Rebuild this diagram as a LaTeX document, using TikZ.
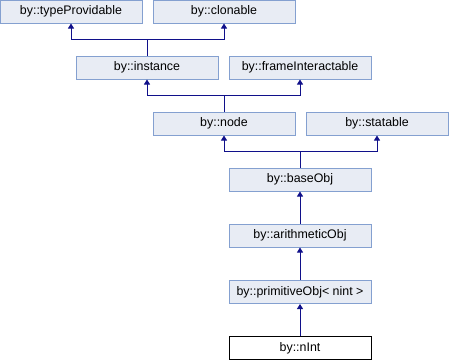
\documentclass[tikz,border=0pt]{standalone}
\usepackage{fontspec}
\setmainfont{Liberation Sans}
\usepackage{xcolor}
\usetikzlibrary{arrows.meta,positioning}

\definecolor{boxfill}{HTML}{E8ECF4}
\definecolor{boxline}{HTML}{84A0D0}
\definecolor{edgeblue}{HTML}{10108A}

\begin{document}
\begin{tikzpicture}[x=1pt,y=-1pt,>={Triangle[width=6pt,length=5pt]},line width=1pt,
    cls/.style={draw=boxline,fill=boxfill,minimum width=142pt,minimum height=23pt,
      inner sep=0pt,font=\fontsize{12.4}{14}\selectfont},
    leaf/.style={cls,draw=black,fill=white},
    inherit/.style={->,draw=edgeblue}]
  \useasboundingbox (0,0) rectangle (449,360);

  % classes, top row first
  \node[cls] (typeprov) at (71,11.5) {by::typeProvidable};
  \node[cls] (clonable) at (224,11.5) {by::clonable};
  \node[cls] (instance) at (147,67.5) {by::instance};
  \node[cls] (frameinter) at (300,67.5) {by::frameInteractable};
  \node[cls] (nodecls) at (224,123.5) {by::node};
  \node[cls] (statable) at (377,123.5) {by::statable};
  \node[cls] (baseobj) at (300,179.5) {by::baseObj};
  \node[cls] (arithobj) at (300,235.5) {by::arithmeticObj};
  \node[cls] (primobj) at (300,292) {by::primitiveObj< nint >};
  \node[leaf] (nint) at (300,348) {by::nInt};

  % multiple inheritance: shared stem, then split
  \foreach \c/\a/\b in {instance/typeprov/clonable,
                        nodecls/instance/frameinter,
                        baseobj/nodecls/statable} {
    \draw[edgeblue] (\c.north) -- ++(0,-16) coordinate (\c-j);
    \draw[inherit] (\c-j) -| (\a.south);
    \draw[inherit] (\c-j) -| (\b.south);
  }

  % single inheritance
  \draw[inherit] (arithobj) -- (baseobj);
  \draw[inherit] (primobj) -- (arithobj);
  \draw[inherit] (nint) -- (primobj);
\end{tikzpicture}
\end{document}
